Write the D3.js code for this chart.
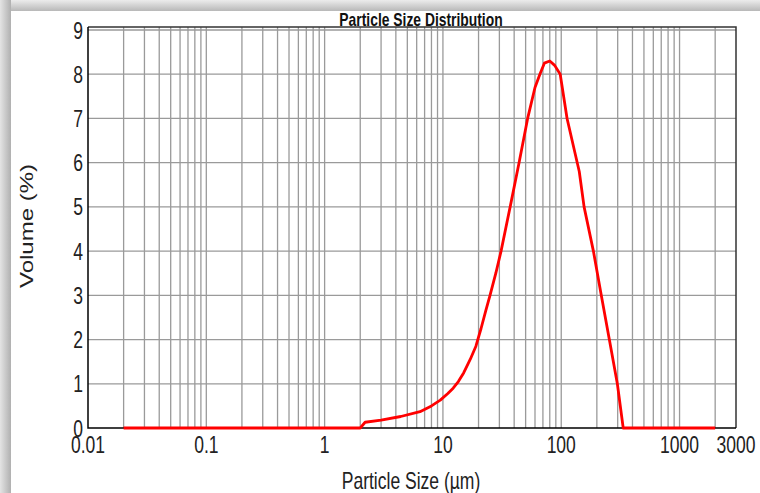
<!DOCTYPE html>
<html>
<head>
<meta charset="utf-8">
<script src="https://cdn.jsdelivr.net/npm/d3@7"></script>
<style>
  body { margin: 0; background: #fff; }
  text { font-family: "Liberation Sans", Arial, sans-serif; }
</style>
</head>
<body>
<script>
// Particle sizes (um) and volume (%)
const sizes   = [0.02, 2.0, 2.2, 3.0, 4.4, 6.4, 8.0, 9.5, 11, 12.2, 13.5, 15, 17, 19, 21, 23, 25, 28, 31, 37, 44, 52, 60, 66, 72, 80, 88, 98, 112, 142, 156, 187, 218, 255, 298, 334, 2000];
const volumes = [0, 0, 0.13, 0.18, 0.26, 0.37, 0.5, 0.63, 0.78, 0.9, 1.05, 1.25, 1.55, 1.85, 2.25, 2.65, 3.0, 3.5, 4.0, 5.0, 6.0, 7.0, 7.7, 8.0, 8.25, 8.3, 8.2, 8.0, 7.0, 5.8, 5.0, 4.0, 3.0, 2.0, 1.0, 0, 0];
const xTickLabels = [0.01, 0.1, 1, 10, 100, 1000, 3000];
const yTickLabels = [0, 1, 2, 3, 4, 5, 6, 7, 8, 9];

const W = 760, H = 493;
const squeeze = 0.73; // text in the picture is narrowed horizontally

const svg = d3.select("body").append("svg")
    .attr("width", W)
    .attr("height", H);

// shadowed frame on the left and top
const defs = svg.append("defs");
const gTop = defs.append("linearGradient").attr("id", "shTop")
    .attr("x1", 0).attr("y1", 0).attr("x2", 0).attr("y2", 1);
gTop.append("stop").attr("offset", "0%").attr("stop-color", "#ececec");
gTop.append("stop").attr("offset", "100%").attr("stop-color", "#b8b8b8");
const gLeft = defs.append("linearGradient").attr("id", "shLeft")
    .attr("x1", 0).attr("y1", 0).attr("x2", 1).attr("y2", 0);
gLeft.append("stop").attr("offset", "0%").attr("stop-color", "#e4e4e4");
gLeft.append("stop").attr("offset", "100%").attr("stop-color", "#b0b0b0");

svg.append("rect").attr("x", 0).attr("y", 0).attr("width", W).attr("height", 11)
    .attr("fill", "url(#shTop)");
svg.append("rect").attr("x", 0).attr("y", 0).attr("width", 11).attr("height", H)
    .attr("fill", "url(#shLeft)");

// scales
const x = d3.scaleLog().domain([0.01, 3000]).range([88, 736]);
const y = d3.scaleLinear().domain([0, 9]).range([428, 30]);

// vertical grid
const gridX = x.ticks().filter(d => d > 0.01 && d < 3000);
svg.append("g").selectAll("line")
    .data(gridX)
    .join("line")
    .attr("x1", d => x(d)).attr("x2", d => x(d))
    .attr("y1", 27).attr("y2", 428)
    .attr("stroke", "#9a9a9a")
    .attr("stroke-width", 1.3);

// horizontal grid
svg.append("g").selectAll("line")
    .data(yTickLabels.filter(d => d > 0))
    .join("line")
    .attr("x1", 88).attr("x2", 736)
    .attr("y1", d => y(d)).attr("y2", d => y(d))
    .attr("stroke", "#9a9a9a")
    .attr("stroke-width", 1.3);

// frame
svg.append("path")
    .attr("d", `M88,27H736V428`)
    .attr("fill", "none")
    .attr("stroke", "#333")
    .attr("stroke-width", 1.5);
svg.append("path")
    .attr("d", `M88,27V428H736`)
    .attr("fill", "none")
    .attr("stroke", "#000")
    .attr("stroke-width", 1.5);

// curve
const line = d3.line()
    .x((d, i) => x(sizes[i]))
    .y(d => y(d));
svg.append("path")
    .datum(volumes)
    .attr("d", line)
    .attr("fill", "none")
    .attr("stroke", "#ff0000")
    .attr("stroke-width", 2.8)
    .attr("stroke-linejoin", "round");

// tick labels
svg.append("g").selectAll("g")
    .data(xTickLabels)
    .join("g")
    .attr("transform", d => `translate(${x(d)},453) scale(${squeeze},1)`)
    .append("text")
    .attr("text-anchor", "middle")
    .attr("font-size", 24)
    .attr("fill", "#222")
    .text(d => d);

svg.append("g").selectAll("g")
    .data(yTickLabels)
    .join("g")
    .attr("transform", d => `translate(83,${y(d) + 8.5}) scale(${squeeze},1)`)
    .append("text")
    .attr("text-anchor", "end")
    .attr("font-size", 24)
    .attr("fill", "#222")
    .text(d => d);

// title
svg.append("g")
    .attr("transform", `translate(421,26) scale(${squeeze},1)`)
    .append("text")
    .attr("text-anchor", "middle")
    .attr("font-size", 19)
    .attr("font-weight", "bold")
    .attr("fill", "#111")
    .text("Particle Size Distribution");

// axis titles
svg.append("g")
    .attr("transform", `translate(411,489) scale(${squeeze},1)`)
    .append("text")
    .attr("text-anchor", "middle")
    .attr("font-size", 24)
    .attr("fill", "#222")
    .text("Particle Size (µm)");

svg.append("g")
    .attr("transform", `translate(33,226) scale(${squeeze},1) rotate(-90)`)
    .append("text")
    .attr("text-anchor", "middle")
    .attr("font-size", 24)
    .attr("fill", "#222")
    .text("Volume (%)");
</script>
</body>
</html>
